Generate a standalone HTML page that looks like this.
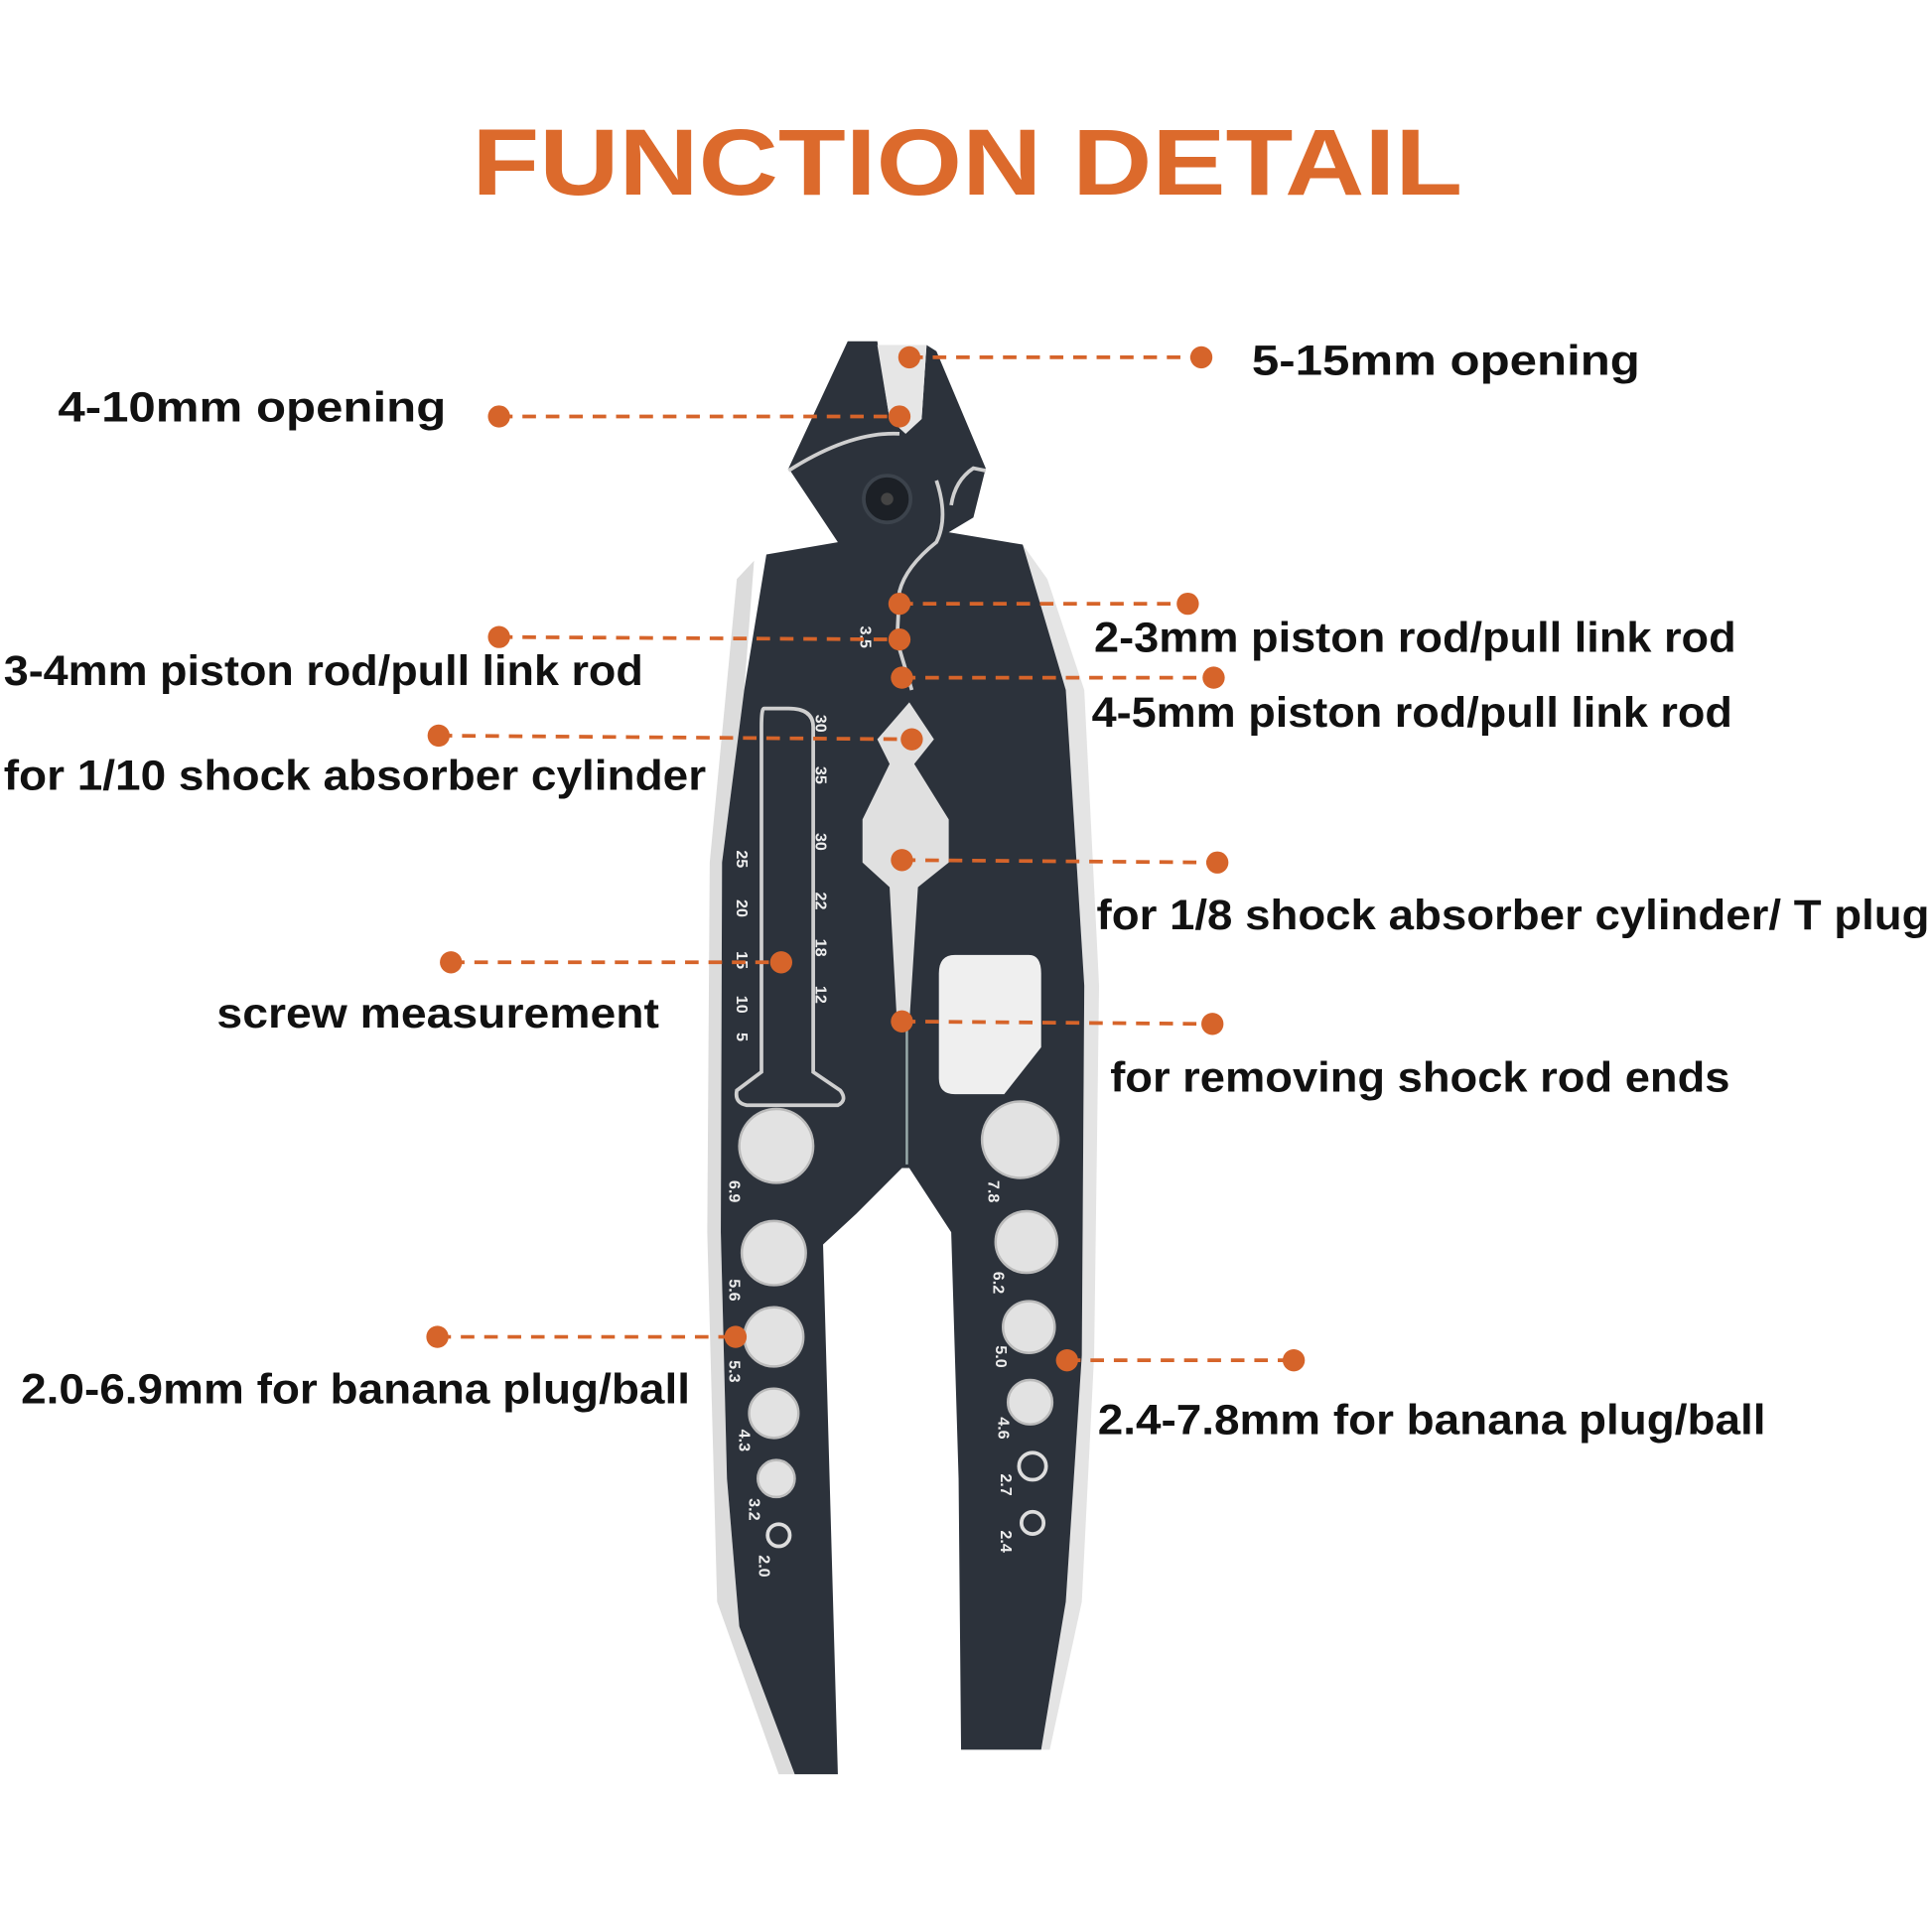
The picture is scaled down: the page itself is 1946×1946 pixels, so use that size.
<!DOCTYPE html>
<html><head><meta charset="utf-8"><style>
html,body{margin:0;padding:0;background:#fff}
svg{display:block}
text{font-family:"Liberation Sans",sans-serif}
.l{font-size:34px;fill:#111;font-weight:bold}
.n{font-size:13px;fill:#eee;font-weight:bold}
</style></head><body>
<svg width="1946" height="1946" viewBox="0 0 1568 1568" xmlns="http://www.w3.org/2000/svg">
<rect width="1568" height="1568" fill="#fff"/>
<text x="383" y="158" font-size="76" font-weight="bold" fill="#dc6a2c" textLength="804" lengthAdjust="spacingAndGlyphs">FUNCTION DETAIL</text>

<!-- silver bevels -->
<path d="M612,455 L598,470 L576,700 L574,1000 L582,1300 L632,1440 L645,1440 L600,1320 L590,1200 L585,1000 L586,700 L604,560 Z" fill="#dcdcdc"/>
<path d="M830,442 L850,470 L880,560 L892,800 L888,1100 L878,1300 L852,1420 L845,1420 L865,1300 L878,1100 L880,800 L865,560 Z" fill="#e4e4e4"/>
<!-- body -->
<path d="M688,277 L712,277 L722,340 L735,352 L748,340 L752,280 L760,285 L800,380 L790,420 L770,432 L830,442 L865,560 L880,800 L878,1100 L865,1300 L845,1420 L780,1420 L778,1200 L772,1000 L738,948 L732,948 L695,985 L668,1010 L680,1440 L645,1440 L600,1320 L590,1200 L585,1000 L586,700 L604,560 L622,450 L680,440 L650,395 L640,380 Z" fill="#2c323b"/>
<!-- jaw opening -->
<path d="M712,280 L752,280 L748,340 L735,352 L722,340 Z" fill="#e6e6e6"/>
<!-- S-curve parting line -->
<path d="M640,382 Q690,350 730,352 M760,390 Q770,420 760,440 Q735,460 730,480 L728,520 L740,560 M800,382 L790,380 Q775,390 772,410" stroke="#cfcfcf" stroke-width="3" fill="none"/>
<path d="M736,830 L736,945" stroke="#9aa" stroke-width="2"/>
<!-- pivot -->
<circle cx="720" cy="405" r="19" fill="#1c2026" stroke="#3c434c" stroke-width="3"/>
<circle cx="720" cy="405" r="5" fill="#444"/>
<!-- central cavity -->
<path d="M738,570 L758,600 L742,620 L770,665 L770,700 L745,720 L738,830 L728,830 L722,720 L700,700 L700,665 L722,620 L712,600 Z" fill="#e0e0e0"/>
<!-- rect hole -->
<path d="M775,775 L835,775 Q845,775 845,790 L845,850 L815,888 L775,888 Q762,888 762,875 L762,790 Q762,775 775,775 Z" fill="#efefef"/>
<!-- slot -->
<path d="M620,575 Q618,575 618,590 L618,870 L598,885 Q596,895 606,897 L680,897 Q688,893 682,885 L660,870 L660,590 Q660,575 640,575 Z" fill="none" stroke="#cfcfcf" stroke-width="3"/>
<g class="n">
<text x="662" y="580" transform="rotate(90 662 580)">30</text>
<text x="662" y="622" transform="rotate(90 662 622)">35</text>
<text x="662" y="676" transform="rotate(90 662 676)">30</text>
<text x="662" y="724" transform="rotate(90 662 724)">22</text>
<text x="662" y="762" transform="rotate(90 662 762)">18</text>
<text x="662" y="800" transform="rotate(90 662 800)">12</text>
<text x="598" y="690" transform="rotate(90 598 690)">25</text>
<text x="598" y="730" transform="rotate(90 598 730)">20</text>
<text x="598" y="772" transform="rotate(90 598 772)">15</text>
<text x="598" y="808" transform="rotate(90 598 808)">10</text>
<text x="598" y="838" transform="rotate(90 598 838)">5</text>
<text x="698" y="508" transform="rotate(90 698 508)">3.5</text>
<text x="592" y="958" transform="rotate(90 592 958)">6.9</text>
<text x="592" y="1038" transform="rotate(90 592 1038)">5.6</text>
<text x="592" y="1104" transform="rotate(90 592 1104)">5.3</text>
<text x="600" y="1160" transform="rotate(90 600 1160)">4.3</text>
<text x="608" y="1216" transform="rotate(90 608 1216)">3.2</text>
<text x="616" y="1262" transform="rotate(90 616 1262)">2.0</text>
<text x="802" y="958" transform="rotate(90 802 958)">7.8</text>
<text x="806" y="1032" transform="rotate(90 806 1032)">6.2</text>
<text x="808" y="1092" transform="rotate(90 808 1092)">5.0</text>
<text x="810" y="1150" transform="rotate(90 810 1150)">4.6</text>
<text x="812" y="1196" transform="rotate(90 812 1196)">2.7</text>
<text x="812" y="1242" transform="rotate(90 812 1242)">2.4</text>
</g>
<g fill="#e2e2e2" stroke="#bbb" stroke-width="2">
<circle cx="630" cy="930" r="30"/><circle cx="628" cy="1017" r="26"/><circle cx="628" cy="1085" r="24"/>
<circle cx="628" cy="1147" r="20"/><circle cx="630" cy="1200" r="15"/>
<circle cx="828" cy="925" r="31"/><circle cx="833" cy="1008" r="25"/><circle cx="835" cy="1077" r="21"/>
<circle cx="836" cy="1138" r="18"/>
</g>
<g fill="none" stroke="#ddd" stroke-width="3">
<circle cx="632" cy="1246" r="9"/><circle cx="838" cy="1190" r="11"/><circle cx="838" cy="1236" r="9"/>
</g>

<g stroke="#d6642a" stroke-width="3" stroke-dasharray="11 8" fill="none">
<line x1="405" y1="338" x2="730" y2="338"/>
<line x1="738" y1="290" x2="975" y2="290"/>
<line x1="405" y1="517" x2="730" y2="519"/>
<line x1="730" y1="490" x2="964" y2="490"/>
<line x1="732" y1="550" x2="985" y2="550"/>
<line x1="356" y1="597" x2="740" y2="600"/>
<line x1="732" y1="698" x2="988" y2="700"/>
<line x1="366" y1="781" x2="634" y2="781"/>
<line x1="732" y1="829" x2="984" y2="831"/>
<line x1="355" y1="1085" x2="597" y2="1085"/>
<line x1="866" y1="1104" x2="1050" y2="1104"/>
</g>
<g fill="#d6642a">
<circle cx="405" cy="338" r="9"/><circle cx="730" cy="338" r="9"/>
<circle cx="738" cy="290" r="9"/><circle cx="975" cy="290" r="9"/>
<circle cx="405" cy="517" r="9"/><circle cx="730" cy="519" r="9"/>
<circle cx="730" cy="490" r="9"/><circle cx="964" cy="490" r="9"/>
<circle cx="732" cy="550" r="9"/><circle cx="985" cy="550" r="9"/>
<circle cx="356" cy="597" r="9"/><circle cx="740" cy="600" r="9"/>
<circle cx="732" cy="698" r="9"/><circle cx="988" cy="700" r="9"/>
<circle cx="366" cy="781" r="9"/><circle cx="634" cy="781" r="9"/>
<circle cx="732" cy="829" r="9"/><circle cx="984" cy="831" r="9"/>
<circle cx="355" cy="1085" r="9"/><circle cx="597" cy="1085" r="9"/>
<circle cx="866" cy="1104" r="9"/><circle cx="1050" cy="1104" r="9"/>
</g>

<g class="l">
<text x="47" y="342" textLength="315" lengthAdjust="spacingAndGlyphs">4-10mm opening</text>
<text x="1016" y="304" textLength="315" lengthAdjust="spacingAndGlyphs">5-15mm opening</text>
<text x="3" y="556" textLength="519" lengthAdjust="spacingAndGlyphs">3-4mm piston rod/pull link rod</text>
<text x="888" y="529" textLength="521" lengthAdjust="spacingAndGlyphs">2-3mm piston rod/pull link rod</text>
<text x="886" y="590" textLength="520" lengthAdjust="spacingAndGlyphs">4-5mm piston rod/pull link rod</text>
<text x="3" y="641" textLength="570" lengthAdjust="spacingAndGlyphs">for 1/10 shock absorber cylinder</text>
<text x="890" y="754" textLength="676" lengthAdjust="spacingAndGlyphs">for 1/8 shock absorber cylinder/ T plug</text>
<text x="176" y="834" textLength="359" lengthAdjust="spacingAndGlyphs">screw measurement</text>
<text x="901" y="886" textLength="503" lengthAdjust="spacingAndGlyphs">for removing shock rod ends</text>
<text x="17" y="1139" textLength="543" lengthAdjust="spacingAndGlyphs">2.0-6.9mm for banana plug/ball</text>
<text x="891" y="1164" textLength="542" lengthAdjust="spacingAndGlyphs">2.4-7.8mm for banana plug/ball</text>
</g>
</svg>
</body></html>
